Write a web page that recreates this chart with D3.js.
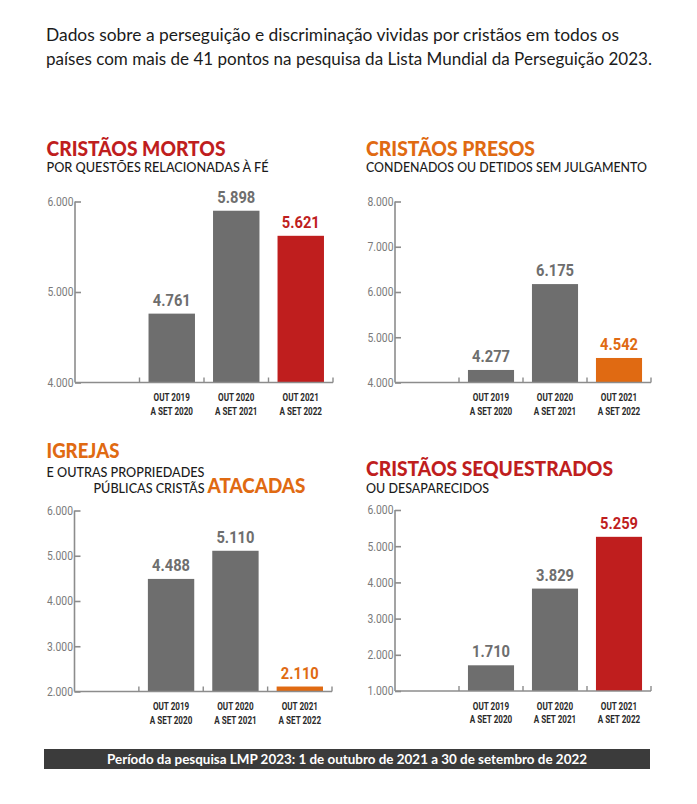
<!DOCTYPE html>
<html><head><meta charset="utf-8">
<script src="https://cdn.jsdelivr.net/npm/d3@7"></script>
<style>body{margin:0;background:#fff}svg{display:block}</style>
</head><body>
<svg id="c" width="697" height="804"></svg>
<script>
// ---- data ----
const categories = [["OUT 2019","A SET 2020"],["OUT 2020","A SET 2021"],["OUT 2021","A SET 2022"]];
const killedValues = [4761, 5898, 5621];
const killedTicks = [4000, 5000, 6000];
const imprisonedValues = [4277, 6175, 4542];
const imprisonedTicks = [4000, 5000, 6000, 7000, 8000];
const churchesValues = [4488, 5110, 2110];
const churchesTicks = [2000, 3000, 4000, 5000, 6000];
const abductedValues = [1710, 3829, 5259];
const abductedTicks = [1000, 2000, 3000, 4000, 5000, 6000];
const headerLines = ["Dados sobre a perseguição e discriminação vividas por cristãos em todos os",
                     "países com mais de 41 pontos na pesquisa da Lista Mundial da Perseguição 2023."];
const footerText = "Período da pesquisa LMP 2023: 1 de outubro de 2021 a 30 de setembro de 2022";

const GRAY = "#6e6e6e", RED = "#bf1e1e", ORANGE = "#e06a12", AXIS = "#8c8c8c";
const fmt = v => d3.format(",")(v).replace(/,/g, ".");
const svg = d3.select("#c");
const condensed = "Roboto,'DejaVu Sans',Arial,sans-serif";
const titleFont = "Lato,'Open Sans',sans-serif";

// squeeze a text selection horizontally by a factor
function squeeze(sel, factor){
  sel.each(function(){
    const w = this.getComputedTextLength();
    d3.select(this).attr("textLength", w*factor).attr("lengthAdjust","spacingAndGlyphs");
  });
}
function factorFor(sample, size, weight, target){
  const t = svg.append("text").attr("font-family",condensed).attr("font-size",size)
    .attr("font-weight",weight).text(sample);
  const w = t.node().getComputedTextLength(); t.remove();
  return target / w;
}
const valF = factorFor("5.898", 17, 700, 38);
const tickF = factorFor("6.000", 12, 400, 26);
const catF = factorFor("A SET 2020", 10.5, 700, 42.5);

// header
svg.selectAll("text.hdr").data(headerLines).join("text")
  .attr("class","hdr").attr("x",46).attr("y",(d,i)=>41+i*23.5)
  .attr("font-family","Lato,'Noto Sans',sans-serif").attr("font-size",17)
  .attr("fill","#1b1b1b")
  .attr("textLength",(d,i)=> i===0?573:606).attr("lengthAdjust","spacingAndGlyphs")
  .text(d=>d);

// footer
svg.append("rect").attr("x",44).attr("y",749).attr("width",606).attr("height",20).attr("fill","#3b3b3b");
svg.append("text").attr("x",347).attr("y",763.5).attr("text-anchor","middle")
  .attr("font-family","Lato,sans-serif").attr("font-weight",700).attr("font-size",12.5)
  .attr("fill","#fff").attr("textLength",480).attr("lengthAdjust","spacingAndGlyphs").text(footerText);

function panel(cfg){
  const g = svg.append("g");
  const y = d3.scaleLinear().domain(d3.extent(cfg.ticks)).range([cfg.y0, cfg.y1]);
  const bw = (cfg.x1 - cfg.x0)/4;
  const x = d3.scaleBand().domain(d3.range(categories.length)).range([cfg.x0 + bw, cfg.x1]).paddingInner(0.28).paddingOuter(0.14);
  // bars
  g.selectAll("rect.bar").data(cfg.values).join("rect")
    .attr("x",(d,i)=>x(i)).attr("width",x.bandwidth())
    .attr("y",d=>y(d)).attr("height",d=>cfg.y0-y(d))
    .attr("fill",(d,i)=> i===2?cfg.hi:GRAY);
  // value labels
  g.selectAll("text.val").data(cfg.values).join("text")
    .attr("x",(d,i)=>x(i)+x.bandwidth()/2).attr("y",d=>y(d)-8)
    .attr("text-anchor","middle").attr("font-family",condensed).attr("font-weight",700)
    .attr("font-size",17)
    .attr("fill",(d,i)=> i===2?cfg.hi:GRAY).text(fmt).call(squeeze, valF);
  // y axis
  const ya = d3.axisRight(y).tickValues(cfg.ticks).tickSize(6).tickFormat("");
  const yg = g.append("g").attr("transform",`translate(${cfg.x0},0)`).call(ya);
  yg.select(".domain").attr("d",`M0,${cfg.y1}V${cfg.y0}`);
  yg.selectAll("line,path").attr("stroke",AXIS).attr("stroke-width",1.6);
  g.selectAll("text.tick").data(cfg.ticks).join("text")
    .attr("x",cfg.x0-1.5).attr("y",d=>y(d)).attr("dy","0.36em").attr("text-anchor","end")
    .attr("font-family",condensed).attr("font-size",12).attr("fill","#7a7a7a")
    .text(fmt).call(squeeze, tickF);
  // x axis
  const xb = d3.scaleLinear().domain([0,4]).range([cfg.x0,cfg.x1]);
  g.append("line").attr("x1",cfg.x0).attr("x2",cfg.x1).attr("y1",cfg.y0).attr("y2",cfg.y0)
    .attr("stroke",AXIS).attr("stroke-width",1.6);
  g.selectAll("line.xt").data([1,2,3,4]).join("line")
    .attr("x1",d=>xb(d)).attr("x2",d=>xb(d)).attr("y1",cfg.y0).attr("y2",cfg.y0-5)
    .attr("stroke",AXIS).attr("stroke-width",1.4);
  // category labels
  categories.forEach((lines,i)=>{
    lines.forEach((t,j)=>{
      g.append("text").attr("x",x(i)+x.bandwidth()/2).attr("y",cfg.y0+18.5+j*13.5)
        .attr("text-anchor","middle").attr("font-family",condensed).attr("font-weight",700)
        .attr("font-size",10.5).attr("fill","#2a2a2a").text(t).call(squeeze, catF);
    });
  });
  // titles
  cfg.texts.forEach(t=>{
    g.append("text").attr("x",t.x).attr("y",t.y).attr("font-family",titleFont)
      .attr("font-weight",t.bold?900:500).attr("font-size",t.size).attr("fill",t.color)
      .attr("textLength",t.w).attr("lengthAdjust","spacingAndGlyphs").text(t.s);
  });
}

panel({values:killedValues, ticks:killedTicks, hi:RED, x0:75, x1:333, y0:382.5, y1:201.5,
  texts:[{s:"CRISTÃOS MORTOS",x:46.5,y:156,size:20,bold:true,color:RED,w:179},
         {s:"POR QUESTÕES RELACIONADAS À FÉ",x:46.5,y:172,size:13,color:"#1b1b1b",w:222}]});
panel({values:imprisonedValues, ticks:imprisonedTicks, hi:ORANGE, x0:395, x1:651, y0:382.5, y1:201.5,
  texts:[{s:"CRISTÃOS PRESOS",x:366,y:156,size:20,bold:true,color:ORANGE,w:169},
         {s:"CONDENADOS OU DETIDOS SEM JULGAMENTO",x:366,y:172,size:13,color:"#1b1b1b",w:281}]});
panel({values:churchesValues, ticks:churchesTicks, hi:ORANGE, x0:74.5, x1:332, y0:691.5, y1:510.5,
  texts:[{s:"IGREJAS",x:46.5,y:458,size:20,bold:true,color:ORANGE,w:73},
         {s:"E OUTRAS PROPRIEDADES",x:46.5,y:476.5,size:13,color:"#1b1b1b",w:158},
         {s:"PÚBLICAS CRISTÃS",x:93.5,y:492.5,size:13,color:"#1b1b1b",w:111},
         {s:"ATACADAS",x:207.5,y:492.5,size:20,bold:true,color:ORANGE,w:98}]});
panel({values:abductedValues, ticks:abductedTicks, hi:RED, x0:395, x1:651, y0:691, y1:510,
  texts:[{s:"CRISTÃOS SEQUESTRADOS",x:366,y:476,size:20,bold:true,color:RED,w:247},
         {s:"OU DESAPARECIDOS",x:366,y:492.5,size:13,color:"#1b1b1b",w:123}]});
</script>
</body></html>
